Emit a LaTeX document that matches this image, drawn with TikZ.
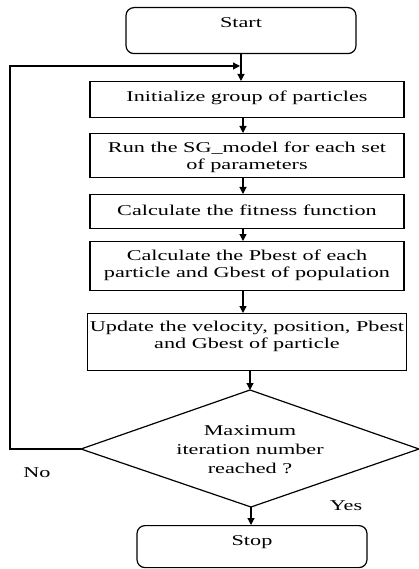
\documentclass[tikz,border=0pt]{standalone}
\usepackage{fontspec}
\setmainfont{Liberation Serif}[FakeStretch=1.48]
\usetikzlibrary{arrows.meta}
\begin{document}
\begin{tikzpicture}[x=1pt,y=-1pt,
  every node/.style={font=\fontsize{15}{17}\selectfont},
  arr/.style={line width=1.2pt,-{Triangle[length=7pt,width=7pt]}},
  procbox/.style={draw,line width=1.2pt,rectangle,minimum width=314pt,minimum height=0pt,inner ysep=0pt,inner xsep=2pt,align=center,anchor=north},
  termbox/.style={draw,line width=1.2pt,rectangle,rounded corners=8pt,minimum width=230pt,minimum height=0pt,inner ysep=0pt,align=center,anchor=north},
  lbl/.style={anchor=base}]
\useasboundingbox (0,0) rectangle (418,569);
\node[termbox,text height=20pt,text depth=26pt] (start) at (241,7) {Start};
\node[procbox,text height=20pt,text depth=16pt] (init) at (247,81) {Initialize group of particles};
\node[procbox,text height=36pt,text depth=8pt] (sg) at (247,133) {Run the SG\_model for each set\\of parameters};
\node[procbox,text height=21pt,text depth=13pt] (fit) at (247,194) {Calculate the fitness function};
\node[procbox,text height=36pt,text depth=13pt] (pb) at (247,241) {Calculate the Pbest of each\\particle and Gbest of population};
\node[procbox,text height=35pt,text depth=22pt] (up) at (247,313) {Update the velocity, position, Pbest\\and Gbest of particle};
\coordinate (dt) at (250,390);
\coordinate (dl) at (81,449);
\coordinate (dr) at (419,449);
\coordinate (db) at (251,507);
\draw[line width=1.2pt] (dt) -- (dr) -- (db) -- (dl) -- cycle;
\node[align=center,inner sep=0pt,font=\fontsize{15}{19}\selectfont] (dec) at (250,450) {Maximum\\iteration number\\reached ?};
\node[termbox,text height=20pt,text depth=22pt] (stop) at (252,525) {Stop};
\node[lbl] (no) at (37,477) {No};
\node[lbl] (yes) at (346,510) {Yes};
\coordinate (c1) at (10,449);
\coordinate (c2) at (10,66);
\coordinate (c3) at (240,66);
\draw[arr] (start.south) -- (start.south |- init.north);
\draw[arr] ([xshift=-4pt]init.south) -- ([xshift=-4pt]sg.north);
\draw[arr] ([xshift=-4pt]sg.south) -- ([xshift=-4pt]fit.north);
\draw[arr] ([xshift=-4pt]fit.south) -- ([xshift=-4pt]pb.north);
\draw[arr] ([xshift=-4pt]pb.south) -- ([xshift=-4pt]up.north);
\draw[arr] ([xshift=3pt]up.south) -- (dt);
\draw[arr] (db) -- (db |- stop.north);
\draw[arr] (dl) -- (c1) -- (c2) -- (c3);
\end{tikzpicture}
\end{document}
